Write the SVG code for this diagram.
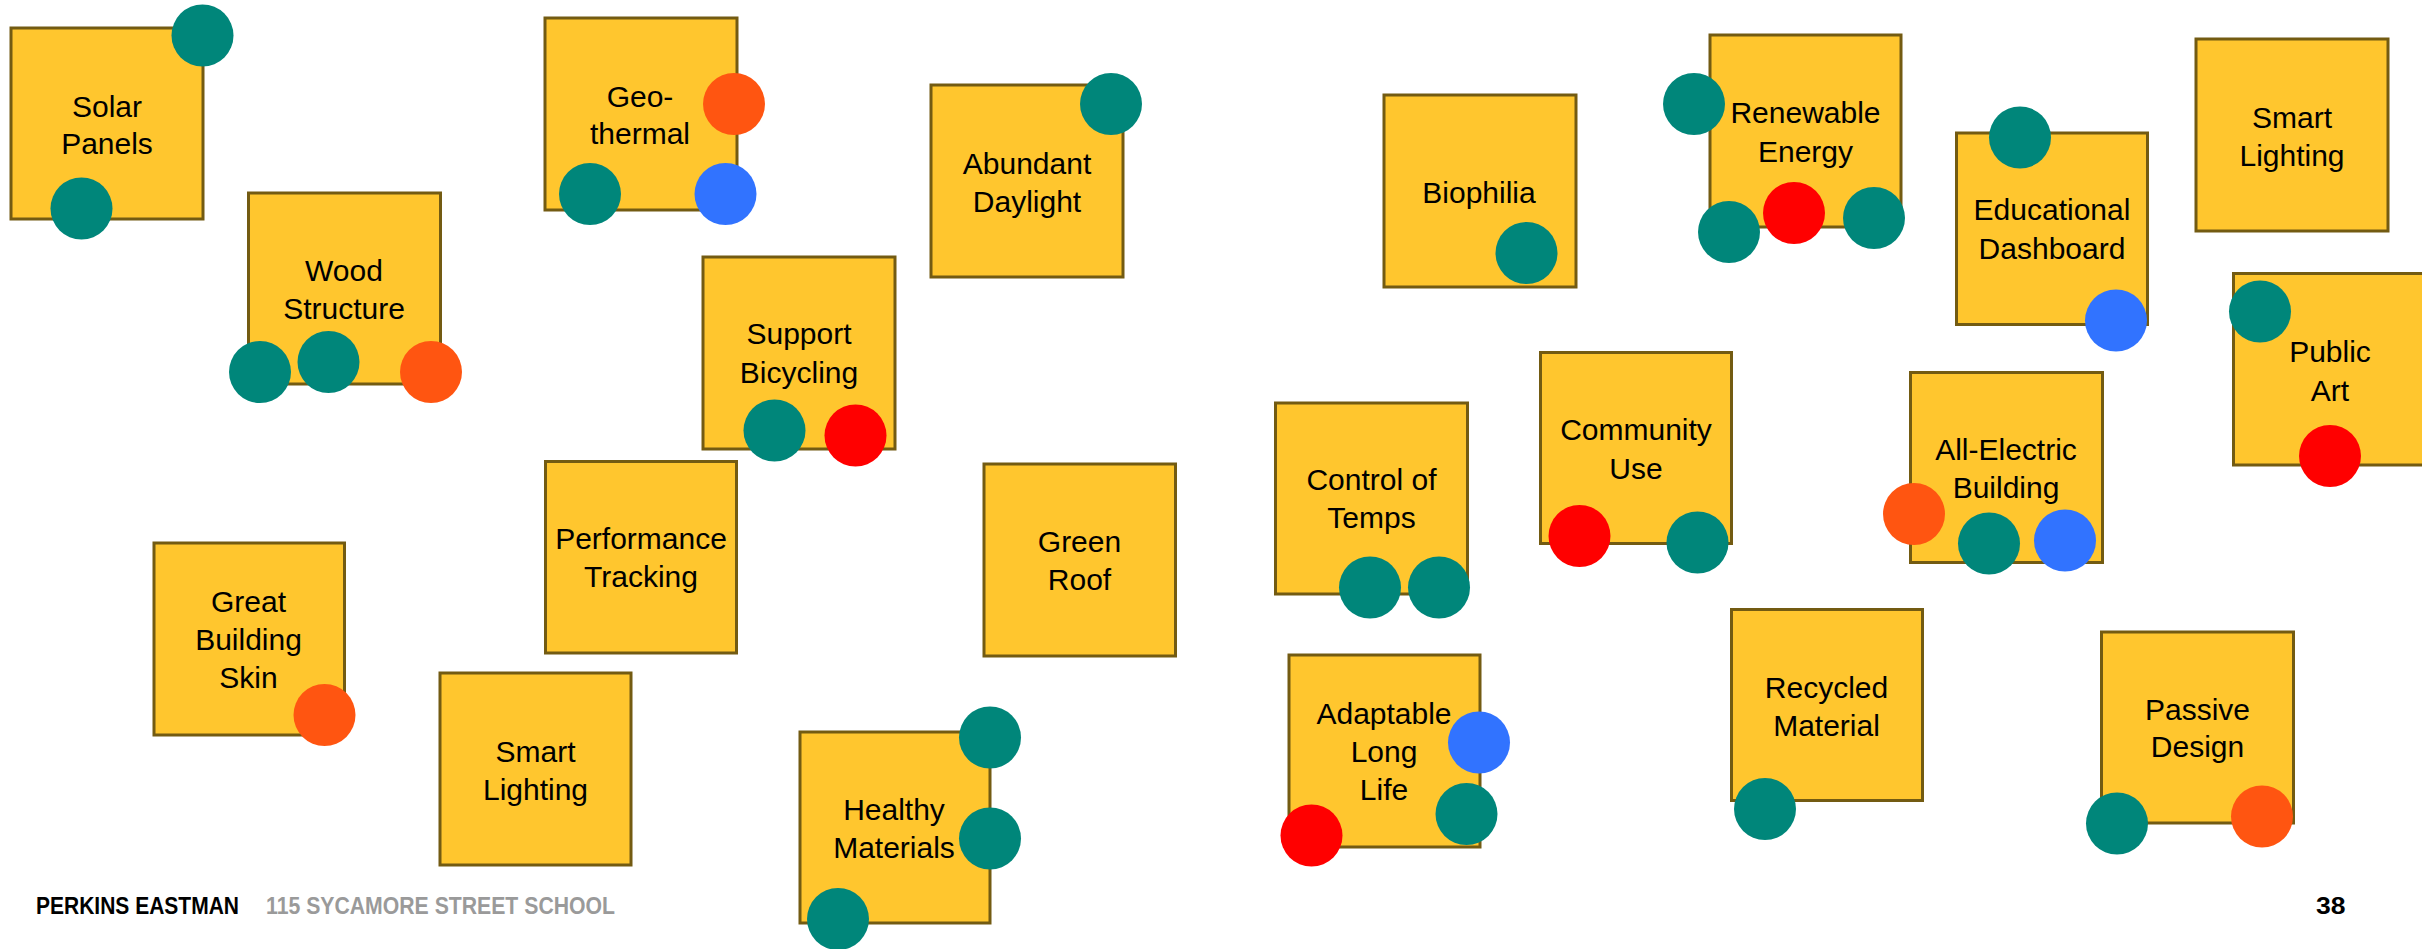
<svg xmlns="http://www.w3.org/2000/svg" width="2422" height="949" viewBox="0 0 2422 949">
<style>
.box{fill:#FFC62E;stroke:#735B12;stroke-width:3}
.t{font-family:"Liberation Sans",Arial,sans-serif;font-size:30px;fill:#000;text-anchor:middle}
.teal{fill:#00867A}
.red{fill:#FF0000}
.org{fill:#FF5511}
.blue{fill:#3173FF}
.foot{font-family:"Liberation Sans",Arial,sans-serif;font-weight:bold;font-size:24px}
</style>
<rect width="2422" height="949" fill="#fff"/>
<g id="connectors"></g>
<g id="solar-panels">
<rect class="box" x="11" y="28" width="192" height="191"/>
<text class="t" x="107" y="117">Solar</text><text class="t" x="107" y="154">Panels</text>
<circle class="teal" cx="202.5" cy="35.5" r="31"/><circle class="teal" cx="81.5" cy="208.5" r="31"/>
</g>
<g id="geothermal">
<rect class="box" x="545" y="18" width="192" height="192"/>
<text class="t" x="640" y="107">Geo-</text><text class="t" x="640" y="144">thermal</text>
<circle class="org" cx="734" cy="104" r="31"/><circle class="teal" cx="590" cy="194" r="31"/><circle class="blue" cx="725.5" cy="194" r="31"/>
</g>
<g id="wood-structure">
<rect class="box" x="248.5" y="193" width="192" height="191"/>
<text class="t" x="344" y="281">Wood</text><text class="t" x="344" y="319">Structure</text>
<circle class="teal" cx="260" cy="372" r="31"/><circle class="teal" cx="328.5" cy="362" r="31"/><circle class="org" cx="431" cy="372" r="31"/>
</g>
<g id="support-bicycling">
<rect class="box" x="703" y="257" width="192" height="192"/>
<text class="t" x="799" y="344">Support</text><text class="t" x="799" y="382.5">Bicycling</text>
<circle class="teal" cx="774.5" cy="430.5" r="31"/><circle class="red" cx="855.5" cy="435.5" r="31"/>
</g>
<g id="abundant-daylight">
<rect class="box" x="931" y="85" width="192" height="192"/>
<text class="t" x="1027" y="174">Abundant</text><text class="t" x="1027" y="212">Daylight</text>
<circle class="teal" cx="1111" cy="104" r="31"/>
</g>
<g id="biophilia">
<rect class="box" x="1384" y="95" width="192" height="192"/>
<text class="t" x="1479" y="202.5">Biophilia</text>
<circle class="teal" cx="1526.5" cy="253" r="31"/>
</g>
<g id="renewable-energy">
<rect class="box" x="1710" y="35" width="191" height="192"/>
<text class="t" x="1805.5" y="123">Renewable</text><text class="t" x="1805.5" y="161.5">Energy</text>
<circle class="teal" cx="1694" cy="104" r="31"/><circle class="teal" cx="1729" cy="232" r="31"/><circle class="red" cx="1794" cy="213" r="31"/><circle class="teal" cx="1874" cy="218" r="31"/>
</g>
<g id="educational-dashboard">
<rect class="box" x="1956.5" y="133" width="191" height="191.5"/>
<text class="t" x="2052" y="220">Educational</text><text class="t" x="2052" y="259">Dashboard</text>
<circle class="teal" cx="2020" cy="137.5" r="31"/><circle class="blue" cx="2116" cy="320.5" r="31"/>
</g>
<g id="smart-lighting-right">
<rect class="box" x="2196" y="39" width="192" height="192"/>
<text class="t" x="2292" y="127.5">Smart</text><text class="t" x="2292" y="165.5">Lighting</text>
</g>
<g id="public-art">
<rect class="box" x="2233.5" y="273.5" width="192" height="191.5"/>
<text class="t" x="2330" y="361.5">Public</text><text class="t" x="2330" y="401">Art</text>
<circle class="teal" cx="2260" cy="311.5" r="31"/><circle class="red" cx="2330" cy="456" r="31"/>
</g>
<g id="great-building-skin">
<rect class="box" x="154" y="543" width="190.5" height="192"/>
<text class="t" x="248.5" y="611.5">Great</text><text class="t" x="248.5" y="650">Building</text><text class="t" x="248.5" y="688">Skin</text>
<circle class="org" cx="324.5" cy="715" r="31"/>
</g>
<g id="performance-tracking">
<rect class="box" x="545.5" y="461.5" width="191" height="191.5"/>
<text class="t" x="641" y="549">Performance</text><text class="t" x="641" y="587">Tracking</text>
</g>
<g id="green-roof">
<rect class="box" x="984" y="464" width="191.5" height="192"/>
<text class="t" x="1079.5" y="551.5">Green</text><text class="t" x="1079.5" y="590">Roof</text>
</g>
<g id="smart-lighting-left">
<rect class="box" x="440" y="673" width="191" height="192"/>
<text class="t" x="535.5" y="761.5">Smart</text><text class="t" x="535.5" y="800">Lighting</text>
</g>
<g id="healthy-materials">
<rect class="box" x="800" y="732" width="190" height="191"/>
<text class="t" x="894" y="820">Healthy</text><text class="t" x="894" y="858">Materials</text>
<circle class="teal" cx="990" cy="737.5" r="31"/><circle class="teal" cx="990" cy="838.5" r="31"/><circle class="teal" cx="838" cy="919" r="31"/>
</g>
<g id="control-of-temps">
<rect class="box" x="1275.5" y="403" width="192" height="191"/>
<text class="t" x="1371.5" y="490">Control of</text><text class="t" x="1371.5" y="528">Temps</text>
<circle class="teal" cx="1370" cy="587.5" r="31"/><circle class="teal" cx="1439" cy="587.5" r="31"/>
</g>
<g id="community-use">
<rect class="box" x="1540.5" y="352.5" width="191" height="191"/>
<text class="t" x="1636" y="440">Community</text><text class="t" x="1636" y="478.5">Use</text>
<circle class="red" cx="1579.5" cy="536" r="31"/><circle class="teal" cx="1697.5" cy="542.5" r="31"/>
</g>
<g id="all-electric-building">
<rect class="box" x="1910.5" y="372.5" width="192" height="190"/>
<text class="t" x="2006" y="459.5">All-Electric</text><text class="t" x="2006" y="497.5">Building</text>
<circle class="org" cx="1914" cy="514" r="31"/><circle class="teal" cx="1989" cy="543.5" r="31"/><circle class="blue" cx="2065" cy="540.5" r="31"/>
</g>
<g id="adaptable-long-life">
<rect class="box" x="1289" y="655" width="191" height="192"/>
<text class="t" x="1384" y="723.5">Adaptable</text><text class="t" x="1384" y="761.5">Long</text><text class="t" x="1384" y="800">Life</text>
<circle class="blue" cx="1479" cy="742.5" r="31"/><circle class="teal" cx="1466.5" cy="814" r="31"/><circle class="red" cx="1311.5" cy="835.5" r="31"/>
</g>
<g id="recycled-material">
<rect class="box" x="1731.5" y="609.5" width="191" height="191"/>
<text class="t" x="1826.5" y="697.5">Recycled</text><text class="t" x="1826.5" y="735.5">Material</text>
<circle class="teal" cx="1765" cy="809" r="31"/>
</g>
<g id="passive-design">
<rect class="box" x="2101.5" y="632" width="192" height="191"/>
<text class="t" x="2197.5" y="719.5">Passive</text><text class="t" x="2197.5" y="756.5">Design</text>
<circle class="teal" cx="2117" cy="823.5" r="31"/><circle class="org" cx="2262" cy="816.5" r="31"/>
</g>
<g id="footer">
<text class="foot" x="36" y="914" fill="#000" textLength="203" lengthAdjust="spacingAndGlyphs">PERKINS EASTMAN</text>
<text class="foot" x="266" y="914" fill="#9A9A9A" textLength="349" lengthAdjust="spacingAndGlyphs">115 SYCAMORE STREET SCHOOL</text>
<text class="foot" x="2316" y="914" fill="#000" textLength="29.5" lengthAdjust="spacingAndGlyphs">38</text>
</g>
</svg>
